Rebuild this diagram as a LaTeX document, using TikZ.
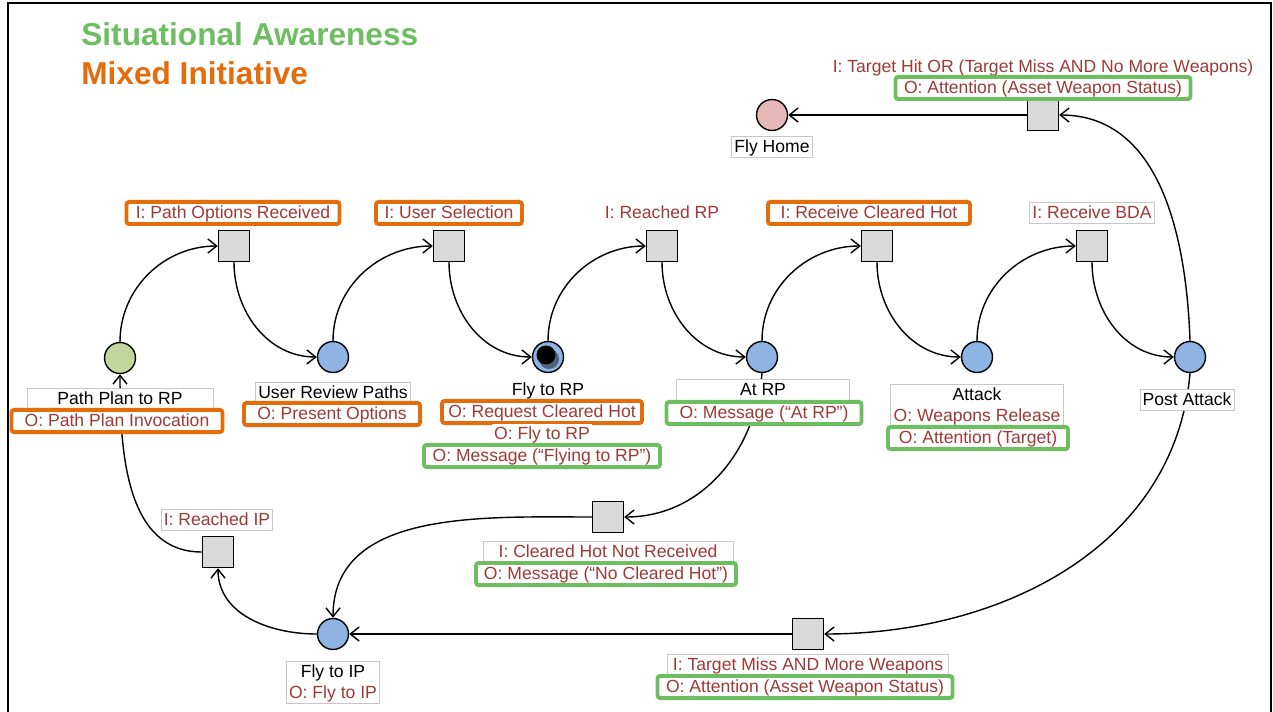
\documentclass[tikz,border=0pt]{standalone}
\usepackage{fontspec}
\setmainfont{Liberation Sans}
\usetikzlibrary{arrows.meta,fit}

\definecolor{sagreen}{RGB}{108,190,96}
\definecolor{miorange}{RGB}{228,108,10}
\definecolor{outred}{RGB}{158,58,54}
\definecolor{placeblue}{RGB}{141,180,226}
\definecolor{startgreen}{RGB}{195,214,155}
\definecolor{homepink}{RGB}{230,185,184}
\definecolor{transgray}{RGB}{217,217,217}

\begin{document}
\begin{tikzpicture}[x=0.02cm, y=-0.02cm,
    >={Straight Barb[length=5pt,width=8pt]},
    place/.style={circle, draw, line width=0.8pt, minimum size=0.62cm, inner sep=0pt},
    trans/.style={rectangle, draw, line width=0.8pt, fill=transgray, minimum size=0.62cm, inner sep=0pt},
    txt/.style={font=\fontsize{10}{12}\selectfont, fill=white, inner xsep=1.5pt, inner ysep=1pt, text height=8pt, text depth=1.8pt},
    io/.style={txt, text=outred},
    thinbox/.style={draw=black!22, line width=0.5pt},
    sabox/.style={io, draw=sagreen, line width=2.2pt, rounded corners=1.5pt, inner ysep=1.4pt},
    mibox/.style={io, draw=miorange, line width=2.2pt, rounded corners=1.5pt, inner ysep=1.4pt},
    arc/.style={->, line width=0.8pt},
    title/.style={anchor=west, inner sep=0pt, font=\bfseries\fontsize{18}{20}\selectfont}]

    \useasboundingbox (0,0) rectangle (1273,712);
    \draw[line width=1.2pt] (8,712) -- (8,3) -- (1271,3) -- (1271,712);

    \node[title, text=sagreen] (satitle) at (81,34) {Situational Awareness};
    \node[title, text=miorange] (mititle) at (81,73) {Mixed Initiative};

    % places
    \node[place, fill=startgreen] (pp) at (120,358) {};
    \node[place, fill=placeblue] (urp) at (333,357) {};
    \node[place, fill=placeblue] (frp) at (548,357) {};
    \node[place, fill=placeblue] (atrp) at (762,357) {};
    \node[place, fill=placeblue] (att) at (977,357) {};
    \node[place, fill=placeblue] (pa) at (1190,357) {};
    \node[place, fill=homepink] (fh) at (772,115) {};
    \node[place, fill=placeblue] (fip) at (333,634) {};

    % token
    \node[circle, fill=black!45!placeblue, minimum size=0.4cm, inner sep=0pt] (tokshadow) at (549,359) {};
    \node[circle, fill=black, minimum size=0.38cm, inner sep=0pt] (tok) at (546,355) {};

    % transitions
    \node[trans] (t1) at (234,246) {};
    \node[trans] (t2) at (449,246) {};
    \node[trans] (t3) at (662,246) {};
    \node[trans] (t4) at (877,246) {};
    \node[trans] (t5) at (1092,246) {};
    \node[trans] (ttop) at (1043,115) {};
    \node[trans] (tmid) at (608,517) {};
    \node[trans] (tip) at (218,552) {};
    \node[trans] (tbr) at (808,634) {};

    % arcs
    \draw[arc] (pp.north) to[out=90, in=180] (t1.west);
    \draw[arc] (t1.south) to[out=-90, in=180] (urp.west);
    \draw[arc] (urp.north) to[out=90, in=180] (t2.west);
    \draw[arc] (t2.south) to[out=-90, in=180] (frp.west);
    \draw[arc] (frp.north) to[out=90, in=180] (t3.west);
    \draw[arc] (t3.south) to[out=-90, in=180] (atrp.west);
    \draw[arc] (atrp.north) to[out=90, in=180] (t4.west);
    \draw[arc] (t4.south) to[out=-90, in=180] (att.west);
    \draw[arc] (att.north) to[out=90, in=180] (t5.west);
    \draw[arc] (t5.south) to[out=-90, in=180] (pa.west);
    \draw[arc] (pa.north) to[out=92, in=0] (ttop.east);
    \draw[arc] (ttop.west) -- (fh.east);
    \draw[arc] (atrp.south) to[out=-95, in=0] (tmid.east);
    \draw[arc] (tmid.west) to[out=180, in=90] (fip.north);
    \draw[arc] (pa.south) to[out=-95, in=0] (tbr.east);
    \draw[arc] (tbr.west) -- (fip.east);
    \draw[arc] (fip.west) to[out=180, in=-90] (tip.south);
    \draw[arc] (tip.west) to[out=180, in=-90] (pp.south);

    % transition labels
    \node[mibox, minimum width=4.26cm] (t1in) at (233,213) {I: Path Options Received};
    \node[mibox, minimum width=2.92cm] (t2in) at (449,213) {I: User Selection};
    \node[io] (t3in) at (662,213) {I: Reached RP};
    \node[mibox, minimum width=4.04cm] (t4in) at (869,213) {I: Receive Cleared Hot};
    \node[io, thinbox] (t5in) at (1092,213) {I: Receive BDA};
    \node[io] (ttopin) at (1043,67) {I: Target Hit OR (Target Miss AND No More Weapons)};
    \node[sabox, minimum width=5.9cm] (ttopout) at (1043,88) {O: Attention (Asset Weapon Status)};
    \node[io, thinbox, minimum width=5cm] (tmidin) at (608,552) {I: Cleared Hot Not Received};
    \node[sabox, minimum width=5.2cm] (tmidout) at (606,574) {O: Message (“No Cleared Hot”)};
    \node[io, thinbox] (tipin) at (217,520) {I: Reached IP};
    \node[io, thinbox, minimum width=5.62cm] (tbrin) at (808,665) {I: Target Miss AND More Weapons};
    \node[sabox, minimum width=5.9cm] (tbrout) at (805,687) {O: Attention (Asset Weapon Status)};

    % place labels
    \node[txt, thinbox, minimum width=3.72cm] (ppname) at (120,399) {Path Plan to RP};
    \node[mibox, minimum width=4.22cm] (ppout) at (117,421) {O: Path Plan Invocation};
    \node[txt, thinbox] (urpname) at (333,393) {User Review Paths};
    \node[mibox, minimum width=3.52cm] (urpout) at (332,414) {O: Present Options};
    \node[txt] (frpname) at (548,390) {Fly to RP};
    \node[mibox, minimum width=4cm] (frpout) at (542,412) {O: Request Cleared Hot};
    \node[io] (frpfly) at (542,434) {O: Fly to RP};
    \node[sabox, minimum width=4.72cm] (frpmsg) at (542,456) {O: Message (“Flying to RP”)};
    \node[txt, thinbox, minimum width=3.46cm] (atrpname) at (763,390) {At RP};
    \node[sabox, minimum width=3.9cm] (atrpout) at (764,413) {O: Message (“At RP”)};
    \node[txt] (attname) at (977,395) {Attack};
    \node[io] (attrel) at (977,416) {O: Weapons Release};
    \node[thinbox, fit=(attname)(attrel), inner sep=0pt] (attbox) {};
    \node[sabox, minimum width=3.6cm] (attout) at (978,438) {O: Attention (Target)};
    \node[txt, thinbox] (paname) at (1187,400) {Post Attack};
    \node[txt, thinbox] (fhname) at (772,147) {Fly Home};
    \node[txt] (fipname) at (333,672) {Fly to IP};
    \node[io] (fipout) at (333,693) {O: Fly to IP};
    \node[thinbox, fit=(fipname)(fipout), inner sep=0pt] (fipbox) {};
\end{tikzpicture}
\end{document}
